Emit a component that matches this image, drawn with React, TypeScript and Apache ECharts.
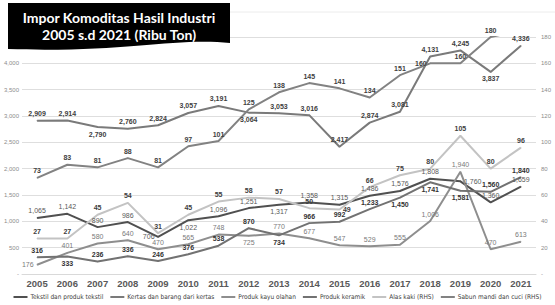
import React, { useEffect, useRef } from "react";
import * as echarts from "echarts";

const years = ["2005", "2006", "2007", "2008", "2009", "2010", "2011", "2012", "2013", "2014", "2015", "2016", "2017", "2018", "2019", "2020", "2021"];
const tekstil = [1065, 1142, 890, 986, 706, 1022, 1096, 1251, 1317, 1358, 1315, 1486, 1576, 1808, 1760, 1360, 1659];
const kertas = [2909, 2914, 2790, 2760, 2824, 3057, 3191, 3064, 3053, 3016, 2417, 2874, 3081, 4131, 4245, 3837, 4336];
const kayu = [176, 401, 580, 640, 470, 565, 748, 725, 770, 677, 547, 529, 555, 1006, 1940, 470, 613];
const keramik = [316, 333, 236, 336, 246, 376, 538, 870, 734, 966, 992, 1233, 1450, 1741, 1581, 1560, 1840];
const alasKaki = [27, 27, 45, 54, 31, 45, 55, 58, 57, 50, 49, 66, 75, 80, 105, 80, 96];
const sabun = [73, 83, 81, 88, 81, 97, 101, 125, 138, 145, 141, 134, 151, 160, 160, 180, 185];

const seriesNames = [
  "Tekstil dan produk tekstil",
  "Kertas dan barang dari kertas",
  "Produk kayu olahan",
  "Produk keramik",
  "Alas kaki (RHS)",
  "Sabun mandi dan cuci (RHS)",
];

// label placement overrides (style only): [seriesIndex][pointIndex] -> position
const labelPlacement: Record<number, Record<number, string>> = {
  0: { 4: "left", 5: "bottom", 8: "bottom", 14: "right" },
  1: { 2: "bottom", 7: "bottom", 15: "bottom" },
  2: { 0: "left", 7: "bottom" },
  3: { 1: "bottom", 8: "bottom", 12: "bottom", 13: "bottom", 14: "bottom" },
  4: { 10: "right" },
  5: { 13: "left" },
};

const fmt = (v: number) => v.toLocaleString("en-US");

export default function App() {
  const ref = useRef<HTMLDivElement>(null);
  useEffect(() => {
    if (!ref.current) return;
    const d = "M8 3 L230 3 L230 43 C178 37 122 53 8 49 Z";
    const Banner = echarts.graphic.extendPath(d, {});
    echarts.graphic.registerShape("banner", Banner as any);
    const chart = echarts.init(ref.current, undefined, { renderer: "svg" });

    const colors = ["#505050", "#7a7a7a", "#8e8e8e", "#727272", "#c3c3c3", "#828282"];
    const labelColors = ["#595959", "#404040", "#7a7a7a", "#333333", "#404040", "#404040"];
    const datasets = [tekstil, kertas, kayu, keramik, alasKaki, sabun];
    const yIdx = [0, 0, 0, 0, 1, 1];

    const series = datasets.map((vals, si) => ({
      name: seriesNames[si],
      type: "line",
      yAxisIndex: yIdx[si],
      symbol: "circle",
      symbolSize: 1,
      lineStyle: { color: colors[si], width: 2 },
      itemStyle: { color: colors[si] },
      label: {
        show: true,
        position: "top",
        distance: 3,
        fontSize: 7,
        fontFamily: "Liberation Sans",
        fontWeight: si === 2 || si === 0 ? "normal" : "bold",
        color: labelColors[si],
        formatter: (p: any) => fmt(p.value),
      },
      data: vals.map((v, i) => {
        const pos = labelPlacement[si] && labelPlacement[si][i];
        return pos ? { value: v, label: { position: pos } } : v;
      }),
    }));

    chart.setOption({
      animation: false,
      backgroundColor: "#ffffff",
      grid: { left: 22, right: 19, top: 37, bottom: 31, containLabel: false },
      legend: {
        top: 293,
        left: "center",
        width: 540,
        icon: "rect",
        itemWidth: 14,
        itemHeight: 2,
        itemGap: 7,
        padding: 0,
        textStyle: {
          fontSize: 6.5,
          lineHeight: 8,
          color: "#404040",
          padding: [0, 0, 0, -2],
          fontFamily: "'Liberation Sans Narrow', 'DejaVu Sans Condensed', 'Liberation Sans', sans-serif",
        },
        data: seriesNames,
      },
      xAxis: {
        type: "category",
        data: years,
        boundaryGap: true,
        axisLine: { lineStyle: { color: "#d9d9d9" } },
        axisTick: { show: false },
        axisLabel: { fontSize: 9.5, lineHeight: 10, fontWeight: "bold", color: "#595959", margin: 4, fontFamily: "Liberation Sans" },
      },
      yAxis: [
        {
          type: "value",
          min: 0,
          max: 4500,
          interval: 500,
          axisLine: { show: false },
          axisTick: { show: false },
          splitLine: { lineStyle: { color: "#dedede", width: 1 } },
          axisLabel: {
            fontSize: 6,
            color: "#8c8c8c",
            margin: 3,
            formatter: (v: number) => (v === 0 ? "-" : v === 4500 ? "" : fmt(v)),
          },
        },
        {
          type: "value",
          min: 0,
          max: 180,
          interval: 20,
          axisLine: { show: false },
          axisTick: { show: false },
          splitLine: { show: false },
          axisLabel: {
            fontSize: 6,
            color: "#8c8c8c",
            margin: 5,
            formatter: (v: number) => (v === 0 ? "-" : String(v)),
          },
        },
      ],
      graphic: [
        { type: "line", shape: { x1: 228, y1: 12, x2: 555, y2: 12 }, style: { stroke: "#ececec", lineWidth: 1 }, z: 1 },
        { type: "banner", x: 0, y: 0, style: { fill: "#000000" }, z: 100 },
        {
          type: "text",
          x: 119,
          y: 17,
          z: 101,
          style: { text: "Impor Komoditas Hasil Industri", fill: "#ffffff", font: "bold 14px Lato", textAlign: "center", textVerticalAlign: "middle" },
        },
        {
          type: "text",
          x: 119,
          y: 34,
          z: 101,
          style: { text: "2005 s.d 2021 (Ribu Ton)", fill: "#ffffff", font: "bold 14px Lato", textAlign: "center", textVerticalAlign: "middle" },
        },
      ],
      series,
    });
    return () => chart.dispose();
  }, []);
  return <div ref={ref} style={{ position: "fixed", left: 0, top: 0, width: 555, height: 305 }} />;
}
